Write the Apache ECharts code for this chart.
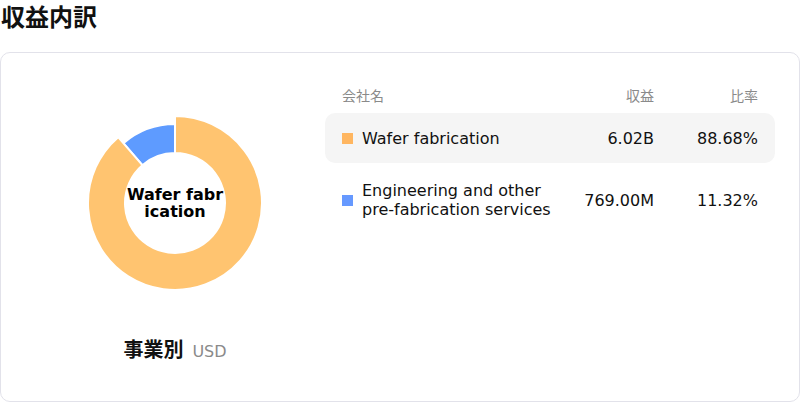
<!DOCTYPE html>
<html>
<head>
<meta charset="utf-8">
<script src="https://cdn.jsdelivr.net/npm/echarts@6/dist/echarts.min.js"></script>
<style>
  html, body { margin: 0; padding: 0; background: #fff; }
  body { width: 800px; height: 402px; position: relative; overflow: hidden;
         font-family: "DejaVu Sans", "Noto Sans CJK JP", sans-serif; color: #111; }
  .title { position: absolute; left: 1px; top: 3px; font-size: 24px; font-weight: bold; line-height: 26px;
           font-family: "Noto Sans CJK JP", sans-serif; }
  .card { position: absolute; left: 0; top: 52px; width: 800px; height: 350px; box-sizing: border-box;
          border: 1px solid #e2e2ea; border-radius: 10px; }
  #chart { position: absolute; left: 0; top: 0; width: 800px; height: 402px; }
  .caption { position: absolute; left: 0; top: 335px; width: 350px; text-align: center; line-height: 28px; }
  .caption b { font-size: 20px; font-family: "Noto Sans CJK JP", sans-serif; }
  .caption span { font-size: 16px; color: #8a8a8a; margin-left: 9px; }
  .tbl { position: absolute; left: 325px; top: 85px; width: 450px; }
  .row { display: flex; align-items: center; padding: 0 17px; box-sizing: border-box; }
  .head { height: 20px; font-size: 14px; color: #8a8a8a; font-family: "Noto Sans CJK JP", sans-serif; }
  .item { min-height: 50px; font-size: 16px; line-height: 19px; border-radius: 10px; margin-top: 8px; }
  .item + .item { margin-top: 12px; }
  .item.hl { background: #f5f5f5; }
  .sq { width: 11px; height: 11px; flex: none; margin-right: 9px; }
  .name { width: 195px; }
  .head .name { width: 215px; }
  .val { width: 97px; text-align: right; }
  .pct { width: 104px; text-align: right; }
</style>
</head>
<body>
<div class="title">収益内訳</div>
<div class="card"></div>
<div id="chart"></div>
<div class="caption"><b>事業別</b><span>USD</span></div>
<div class="tbl" id="tbl"></div>
<script>
// 事業別の収益 (USD)
var segments = ['Wafer fabrication', 'Engineering and other pre-fabrication services'];
var revenue = [6.02e9, 769.00e6];
var revenueLabels = ['6.02B', '769.00M'];
var ratios = ['88.68%', '11.32%'];
var pieColors = ['#FFC470', '#5E9BFF'];
var squareColors = ['#FFB660', '#6699FF'];
var headers = ['会社名', '収益', '比率'];

var chart = echarts.init(document.getElementById('chart'), null, { renderer: 'svg' });

var data = segments.map(function (name, i) {
    var d = { name: name, value: revenue[i], itemStyle: { color: pieColors[i] },
              emphasis: { itemStyle: { color: pieColors[i] } } };
    if (i === 0) {
        // 中央ラベルは先頭だけ
        d.label = {
            show: true, position: 'center',
            fontSize: 16, fontWeight: 'bold', color: '#000', fontFamily: 'DejaVu Sans',
            width: 99, overflow: 'breakAll', lineHeight: 17
        };
    }
    return d;
});

chart.setOption({
    animation: false,
    series: [{
        type: 'pie',
        center: [175, 203],
        radius: [50, 79],
        startAngle: 90,
        clockwise: true,
        avoidLabelOverlap: false,
        itemStyle: { borderColor: '#fff', borderWidth: 2 },
        label: { show: false, position: 'center' },
        labelLine: { show: false },
        emphasis: { scale: true, scaleSize: 8 },
        data: data
    }]
});
chart.dispatchAction({ type: 'highlight', seriesIndex: 0, dataIndex: 0 });

// 右の表
var html = '<div class="row head"><div class="name">' + headers[0] + '</div>' +
    '<div class="val">' + headers[1] + '</div><div class="pct">' + headers[2] + '</div></div>';
segments.forEach(function (name, i) {
    html += '<div class="row item' + (i === 0 ? ' hl' : '') + '">' +
        '<div class="sq" style="background:' + squareColors[i] + '"></div>' +
        '<div class="name">' + name + '</div>' +
        '<div class="val">' + revenueLabels[i] + '</div>' +
        '<div class="pct">' + ratios[i] + '</div></div>';
});
document.getElementById('tbl').innerHTML = html;
</script>
</body>
</html>
